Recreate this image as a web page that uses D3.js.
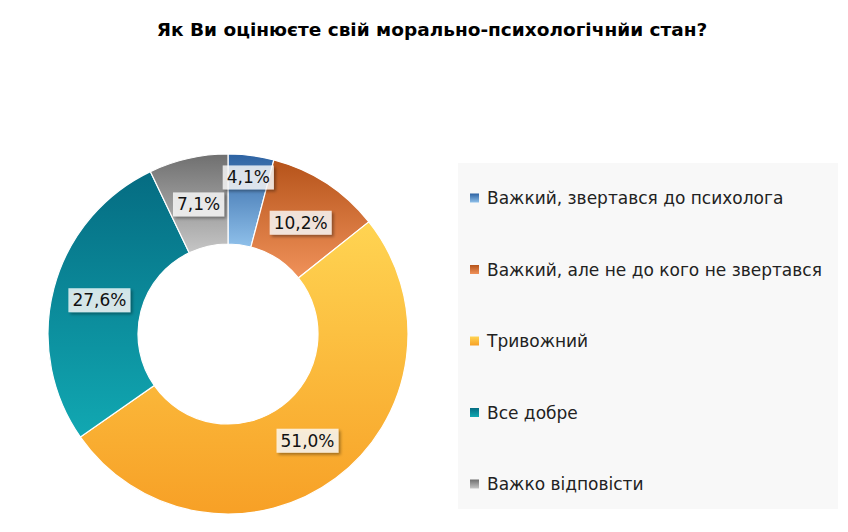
<!DOCTYPE html>
<html>
<head>
<meta charset="utf-8">
<script src="https://cdn.jsdelivr.net/npm/d3@7"></script>
<style>
  html, body { margin: 0; padding: 0; background: #ffffff; }
  svg { display: block; }
</style>
</head>
<body>
<svg id="chart" width="848" height="532"></svg>
<script>
const title = "Як Ви оцінюєте свій морально-психологічнйи стан?";
const categories = [
  "Важкий, звертався до психолога",
  "Важкий, але не до кого не звертався",
  "Тривожний",
  "Все добре",
  "Важко відповісти"
];
const values = [4.1, 10.2, 51.0, 27.6, 7.1];
const labels = ["4,1%", "10,2%", "51,0%", "27,6%", "7,1%"];
const colorsDark  = ["#2d62a2", "#b5531a", "#ffd452", "#056c82", "#6f6f6f"];
const colorsLight = ["#8fc0ea", "#f0925a", "#f7a026", "#11a8b2", "#c6c6c6"];

const svg = d3.select("#chart");
const FONT = "'DejaVu Sans', Verdana, sans-serif";

// title
svg.append("text")
  .attr("x", 432).attr("y", 36)
  .attr("text-anchor", "middle")
  .attr("font-family", FONT)
  .attr("font-weight", "bold")
  .attr("font-size", 18.5)
  .attr("fill", "#000")
  .text(title);

const defs = svg.append("defs");
colorsDark.forEach((c, i) => {
  const g = defs.append("linearGradient")
    .attr("id", "g" + i)
    .attr("x1", 0).attr("y1", 0).attr("x2", 0).attr("y2", 1);
  g.append("stop").attr("offset", "0%").attr("stop-color", c);
  g.append("stop").attr("offset", "100%").attr("stop-color", colorsLight[i]);
});
const sh = defs.append("filter").attr("id", "shadow")
  .attr("x", "-20%").attr("y", "-30%").attr("width", "150%").attr("height", "180%");
sh.append("feDropShadow").attr("dx", 2).attr("dy", 2).attr("stdDeviation", 1.5)
  .attr("flood-color", "#000").attr("flood-opacity", 0.45);

const cx = 228, cy = 334, rOuter = 180, rInner = 90;
const pie = d3.pie().sort(null).value(d => d);
const arcs = pie(values);
const arc = d3.arc().innerRadius(rInner).outerRadius(rOuter);

const g = svg.append("g").attr("transform", `translate(${cx},${cy})`);
g.selectAll("path.slice")
  .data(arcs)
  .join("path")
  .attr("class", "slice")
  .attr("d", arc)
  .attr("fill", (d, i) => `url(#g${i})`)
  .attr("stroke", "#fff")
  .attr("stroke-width", 1.2);

// labels (placed largest first, pushed outward when overlapping)
const lg = g.selectAll("g.lbl").data(arcs).join("g").attr("class", "lbl");
const boxes = [];
lg.each(function(d, i) {
  const sel = d3.select(this);
  const t = sel.append("text")
    .attr("text-anchor", "middle")
    .attr("dy", "0.36em")
    .attr("font-family", FONT)
    .attr("font-size", 17)
    .attr("fill", "#111")
    .text(labels[i]);
  const bb = t.node().getBBox();
  const bx = { x: bb.x - 4, y: bb.y - 2, w: bb.width + 8, h: bb.height + 4 };
  sel.insert("rect", "text")
    .attr("x", bx.x).attr("y", bx.y)
    .attr("width", bx.w).attr("height", bx.h)
    .attr("fill", "rgba(255,255,255,0.78)")
    .attr("filter", "url(#shadow)");
  boxes.push({ sel, d, bx });
});
const placed = [];
boxes.slice().sort((a, b) => b.d.value - a.d.value).forEach(item => {
  const mid = (item.d.startAngle + item.d.endAngle) / 2;
  let r = 133, px, py;
  const hit = () => placed.some(p =>
    px + item.bx.x < p.x + p.w + 2 && px + item.bx.x + item.bx.w + 2 > p.x &&
    py + item.bx.y < p.y + p.h + 2 && py + item.bx.y + item.bx.h + 2 > p.y);
  do {
    px = r * Math.sin(mid); py = -r * Math.cos(mid); r += 1;
  } while (hit() && r < 200);
  placed.push({ x: px + item.bx.x, y: py + item.bx.y, w: item.bx.w, h: item.bx.h });
  item.sel.attr("transform", `translate(${px},${py})`);
});

// legend
const legX = 458, legY = 163, legW = 380, legH = 346;
svg.append("rect")
  .attr("x", legX).attr("y", legY).attr("width", legW).attr("height", legH)
  .attr("fill", "#f8f8f8");
const ly = d3.scalePoint().domain(categories).range([198, 484]);
const items = svg.selectAll("g.leg").data(categories).join("g").attr("class", "leg")
  .attr("transform", d => `translate(470,${ly(d)})`);
items.append("rect")
  .attr("x", 0).attr("y", -4.5).attr("width", 9).attr("height", 9)
  .attr("fill", (d, i) => `url(#g${i})`);
items.append("text")
  .attr("x", 17).attr("y", 0).attr("dy", "0.36em")
  .attr("font-family", FONT)
  .attr("font-size", 17)
  .attr("fill", "#222")
  .text(d => d);
</script>
</body>
</html>
